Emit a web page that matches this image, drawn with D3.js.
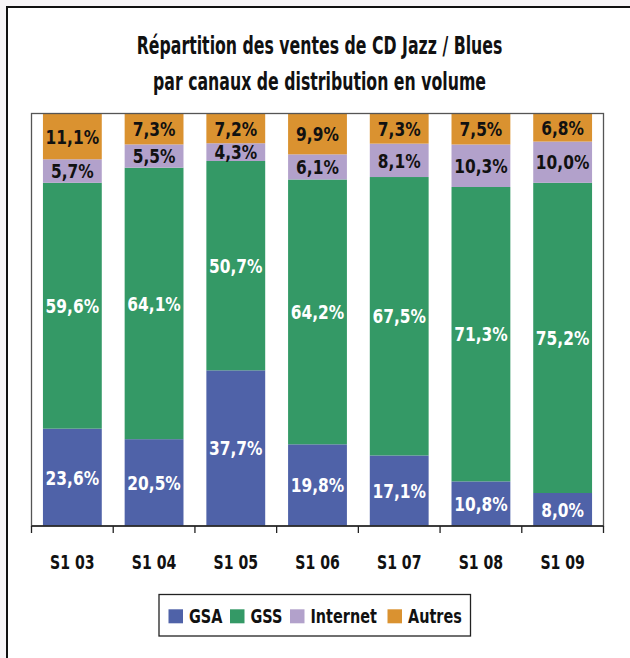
<!DOCTYPE html>
<html><head><meta charset="utf-8">
<script src="https://cdn.jsdelivr.net/npm/d3@7"></script>
<style>
html,body{margin:0;padding:0;background:#f7f5f7;}
svg{display:block;}
text{font-family:"DejaVu Sans",sans-serif;font-weight:bold;}
</style></head>
<body>
<svg id="chart" width="630" height="658"></svg>
<script>
const categories = ["S1 03","S1 04","S1 05","S1 06","S1 07","S1 08","S1 09"];
const seriesNames = ["GSA","GSS","Internet","Autres"];
const gsa      = [23.6, 20.5, 37.7, 19.8, 17.1, 10.8, 8.0];
const gss      = [59.6, 64.1, 50.7, 64.2, 67.5, 71.3, 75.2];
const internet = [5.7, 5.5, 4.3, 6.1, 8.1, 10.3, 10.0];
const autres   = [11.1, 7.3, 7.2, 9.9, 7.3, 7.5, 6.8];
const colors = ["#4f62a8","#349966","#b2a1cb","#da9230"];
const labelColors = ["#ffffff","#ffffff","#111111","#111111"];
const titleLines = ["Répartition des ventes de CD Jazz / Blues","par canaux de distribution en volume"];

const svg = d3.select("#chart");
// measure helper: scale factor so that sample string reaches target width
function squeeze(sample, size, target){
  const t = svg.append("text").attr("font-size",size).text(sample);
  const w = t.node().getComputedTextLength();
  t.remove();
  return target / w;
}
function sText(parent, x, y, str, size, sx, anchor, fill){
  const gg = parent.append("g").attr("transform",`translate(${x},${y})`);
  gg.append("text").attr("transform",`scale(${sx},1)`).attr("font-size",size)
    .attr("text-anchor",anchor).attr("fill",fill).text(str);
  return gg;
}

// outer frame
svg.append("rect").attr("x",7).attr("y",7).attr("width",640).attr("height",680)
  .attr("fill","#ffffff").attr("stroke","#111").attr("stroke-width",2);

const m = {left:31.5, right:603.5, top:113.5, bottom:526};
const data = categories.map((c,i)=>({cat:c, GSA:gsa[i], GSS:gss[i], Internet:internet[i], Autres:autres[i]}));
const stack = d3.stack().keys(seriesNames).offset(d3.stackOffsetExpand);
const series = stack(data);

const x = d3.scaleBand().domain(categories).range([m.left, m.right]).paddingInner(0.28).paddingOuter(0.14);
const xTicks = d3.scaleBand().domain(categories).range([m.left, m.right]);
const y = d3.scaleLinear().domain([0,1]).range([m.bottom, m.top]);

// title
const titleSize = 25;
const titleSx = squeeze(titleLines[0], titleSize, 366);
titleLines.forEach((t,i)=>sText(svg,319.5,54+i*36,t,titleSize,titleSx,"middle","#111"));

// bars
const g = svg.append("g");
series.forEach((s,si)=>{
  g.append("g").attr("fill",colors[si]).selectAll("rect").data(s).join("rect")
    .attr("x",d=>x(d.data.cat)).attr("width",x.bandwidth())
    .attr("y",d=>y(d[1])).attr("height",d=>y(d[0])-y(d[1]));
});

// plot border
svg.append("rect").attr("x",m.left).attr("y",m.top).attr("width",m.right-m.left).attr("height",m.bottom-m.top)
  .attr("fill","none").attr("stroke","#555").attr("stroke-width",1.3);

// labels
const labelSize = 19.8;
const labelSx = squeeze("23,6%", labelSize, 53.5);
series.forEach((s,si)=>{
  s.forEach(d=>{
    const cy = (y(d[0])+y(d[1]))/2 + 7.2;
    sText(g, x(d.data.cat)+x.bandwidth()/2, cy,
      d.data[seriesNames[si]].toFixed(1).replace(".",",")+"%", labelSize, labelSx, "middle", labelColors[si]);
  });
});

// x axis
const ax = svg.append("g").attr("transform",`translate(0,${m.bottom})`);
ax.append("line").attr("x1",m.left).attr("x2",m.right).attr("stroke","#222").attr("stroke-width",1.5);
const tickPos = categories.map(c=>xTicks(c)).concat([m.right]);
ax.selectAll("line.t").data(tickPos).join("line").attr("class","t")
  .attr("x1",d=>d).attr("x2",d=>d).attr("y1",0).attr("y2",7).attr("stroke","#222").attr("stroke-width",1.3);
const axisSize = 19.6;
const axisSx = squeeze("S1 03", axisSize, 44.5);
categories.forEach(c=>sText(ax, xTicks(c)+xTicks.bandwidth()/2, 43.3, c, axisSize, axisSx, "middle", "#111"));

// legend
const lg = svg.append("g");
lg.append("rect").attr("x",159).attr("y",594.5).attr("width",311.5).attr("height",41.5)
  .attr("fill","#fff").attr("stroke","#222").attr("stroke-width",1.3);
const legX = [168.5, 230, 290, 387.5];
const legSize = 19.8;
const legSx = squeeze("Internet", legSize, 66.3);
seriesNames.forEach((n,i)=>{
  lg.append("rect").attr("x",legX[i]).attr("y",609.3).attr("width",14.5).attr("height",14).attr("fill",colors[i]);
  sText(lg, legX[i]+20.5, 622.8, n, legSize, legSx, "start", "#111");
});
</script>
</body></html>
